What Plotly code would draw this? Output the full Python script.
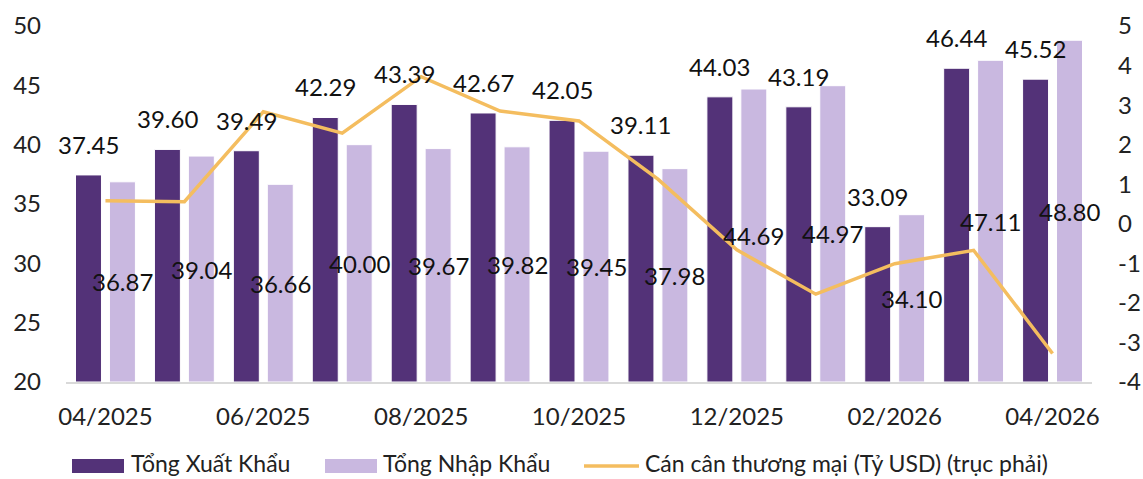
import plotly.graph_objects as go

months = ["04/2025", "05/2025", "06/2025", "07/2025", "08/2025", "09/2025", "10/2025",
          "11/2025", "12/2025", "01/2026", "02/2026", "03/2026", "04/2026"]
exports = [37.45, 39.60, 39.49, 42.29, 43.39, 42.67, 42.05, 39.11, 44.03, 43.19, 33.09, 46.44, 45.52]
imports = [36.87, 39.04, 36.66, 40.00, 39.67, 39.82, 39.45, 37.98, 44.69, 44.97, 34.10, 47.11, 48.80]
balance = [round(e - i, 2) for e, i in zip(exports, imports)]
tick_labels = months[::2]
right_ticks = [-4, -3, -2, -1, 0, 1, 2, 3, 4, 5]
right_tick_text = [str(v) for v in right_ticks]
names = ["Tổng Xuất Khẩu", "Tổng Nhập Khẩu", "Cán cân thương mại (Tỷ USD) (trục phải)"]

FONT = "Lato"
FS = 24
C_EXP = "#533278"
C_IMP = "#C9B8E0"
C_BAL = "#F4BD5F"
TXT = "#111111"
AXIS_MIN = 20

fig = go.Figure()
fig.add_trace(go.Bar(x=months, y=[v - AXIS_MIN for v in exports], base=AXIS_MIN,
                     name=names[0], marker=dict(color=C_EXP, line=dict(color="white", width=1))))
fig.add_trace(go.Bar(x=months, y=[v - AXIS_MIN for v in imports], base=AXIS_MIN,
                     name=names[1], marker=dict(color=C_IMP, line=dict(color="white", width=1))))
fig.add_trace(go.Scatter(x=months, y=balance, yaxis="y2", mode="lines",
                         name=names[2], line=dict(color=C_BAL, width=3.5)))

ann = []
for m, e, i in zip(months, exports, imports):
    ann.append(dict(x=m, y=e, xref="x", yref="y", text=f"{e:.2f}", showarrow=False,
                    xshift=-17, yanchor="bottom", yshift=14,
                    font=dict(family=FONT, size=FS, color=TXT)))
    ann.append(dict(x=m, y=(AXIS_MIN + i) / 2, xref="x", yref="y", text=f"{i:.2f}", showarrow=False,
                    xshift=17, yanchor="middle",
                    font=dict(family=FONT, size=FS, color=TXT)))

# manual legend (layout decoration, paper coordinates)
PLOT_L, PLOT_W, PLOT_B, PLOT_H = 66, 1026, 382, 356
def px(x):
    return (x - PLOT_L) / PLOT_W
def py(y):
    return (PLOT_B - y) / PLOT_H

LEG_Y = 465
shapes = [
    dict(type="rect", xref="paper", yref="paper", x0=px(72), x1=px(124), y0=py(LEG_Y + 8), y1=py(LEG_Y - 6),
         fillcolor=C_EXP, line=dict(width=0)),
    dict(type="rect", xref="paper", yref="paper", x0=px(325), x1=px(377), y0=py(LEG_Y + 8), y1=py(LEG_Y - 6),
         fillcolor=C_IMP, line=dict(width=0)),
    dict(type="line", xref="paper", yref="paper", x0=px(584), x1=px(639), y0=py(LEG_Y + 1), y1=py(LEG_Y + 1),
         line=dict(color=C_BAL, width=3.5)),
]
for xpos, name in zip([129, 381, 643], names):
    ann.append(dict(x=px(xpos), y=py(LEG_Y - 2), xref="paper", yref="paper", text=name, showarrow=False,
                    xanchor="left", yanchor="middle", font=dict(family=FONT, size=23, color="#222222")))

fig.update_layout(
    width=1143, height=479,
    margin=dict(l=66, r=51, t=26, b=97),
    paper_bgcolor="white", plot_bgcolor="white",
    font=dict(family=FONT, size=FS, color="#222222"),
    barmode="group", bargap=0.14, bargroupgap=0.235,
    showlegend=False,
    annotations=ann,
    shapes=shapes,
    xaxis=dict(type="category", range=[-0.5, len(months) - 0.5], tickvals=tick_labels, ticktext=tick_labels,
               showline=True, linecolor="#D9D9D9", linewidth=2, showgrid=False,
               ticks="", ticklabelstandoff=12, automargin=False),
    yaxis=dict(range=[20, 50], dtick=5, showgrid=False, zeroline=False, ticks="",
               ticklabelstandoff=24, automargin=False),
    yaxis2=dict(range=[-4, 5], tickvals=right_ticks, ticktext=right_tick_text, overlaying="y",
                side="right", showgrid=False, zeroline=False, ticks="",
                ticklabelstandoff=25, automargin=False),
)

fig.write_html("out.html", config={"displayModeBar": False},
               post_script="document.body.style.margin='0';document.body.style.overflow='hidden';")
